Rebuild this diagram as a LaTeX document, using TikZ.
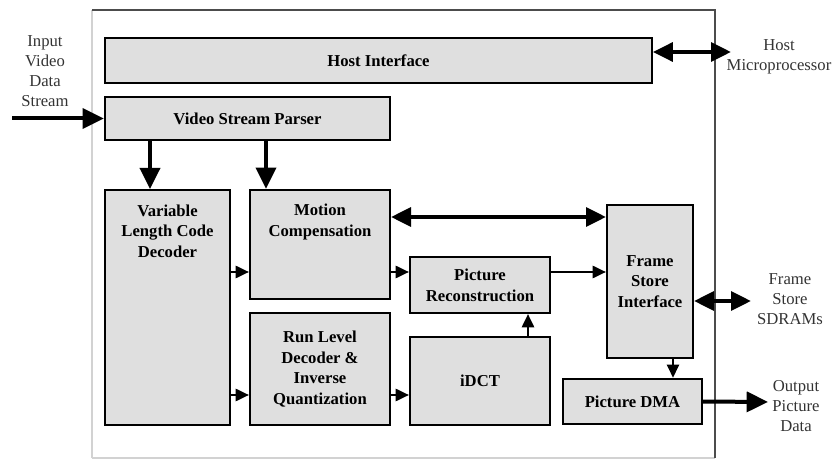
\documentclass[tikz,border=0pt]{standalone}
\usepackage{fontspec}
\setmainfont{Liberation Serif}
\usetikzlibrary{arrows.meta, positioning, calc}
\tikzset{
  blkbox/.style={
    rectangle, draw=black, line width=1.5pt, fill=gray!25,
    align=center, font=\fontsize{12.5}{15.5}\selectfont\bfseries
  },
  toptext/.style={
    align=center, anchor=north, yshift=-8pt,
    font=\fontsize{12.5}{15.5}\selectfont\bfseries
  },
  outlabel/.style={
    align=center, text=black!80,
    font=\fontsize{12.5}{15}\selectfont
  },
  bigarrow/.style={-{Triangle[length=16pt,width=15pt]}, line width=3pt},
  bigdouble/.style={{Triangle[length=15pt,width=14pt]}-{Triangle[length=15pt,width=14pt]}, line width=3pt},
  smallarrow/.style={-{Triangle[length=10pt,width=9pt]}, line width=2pt},
}
\begin{document}
\begin{tikzpicture}[x=0.75pt,y=-0.75pt]
    \useasboundingbox (0,0) rectangle (836,460);
    \draw[line width=2pt,gray!35] (92,458)--(92,10);
    \draw[line width=2pt,gray!35] (92,458)--(715,458);
    \draw[line width=1.5pt,black!70] (92,10)--(715,10)--(715,458);
    \node[blkbox,minimum width=410pt,minimum height=34pt](host)at(378.5,60.5){Host Interface};
    \node[blkbox,minimum width=214pt,minimum height=32pt](vsp) at(247.5,118.5){Video Stream Parser};
    \node[blkbox,minimum width=94pt,minimum height=176pt,
          label={[toptext]north:Variable\\Length Code\\Decoder}](vlc)at(167.5,307.5){};
    \node[blkbox,minimum width=105pt,minimum height=82pt,
          label={[toptext]north:Motion\\Compensation}](mc)at(320,244.5){};
    \node[blkbox,minimum width=105pt,minimum height=84pt](rl)at(320,369)
         {Run Level\\Decoder \&\\Inverse\\Quantization};
    \node[blkbox,minimum width=105pt,minimum height=42pt](pr)at(480,285)
         {Picture\\Reconstruction};
    \node[blkbox,minimum width=105pt,minimum height=66pt](idct)at(480,381){iDCT};
    \node[blkbox,minimum width=64.5pt,minimum height=115pt](fsi)at(650,281.5)
         {Frame\\Store\\Interface};
    \node[blkbox,minimum width=104pt,minimum height=34pt](dma)at(632.5,401.5){Picture DMA};
    \node[outlabel](inlbl)  at(45,71)  {Input\\Video\\Data\\Stream};
    \node[outlabel](hostlbl)at(779,57) {Host\\Microprocessor};
    \node[outlabel](sdram)  at(790,299){Frame\\Store\\SDRAMs};
    \node[outlabel](outlbl) at(796,406){Output\\Picture\\Data};
    \coordinate(instart) at(12,118.5);
    \coordinate(hostend) at(731,52);
    \coordinate(sdramend)at(751,301);
    \coordinate(outend)  at(768,402);
    \coordinate(ra)at(0,217);
    \coordinate(rb)at(0,272);
    \coordinate(rc)at(0,395);
    \coordinate(ca)at(150,0);
    \coordinate(cb)at(266,0);
    \coordinate(cc)at(528,0);
    \coordinate(cd)at(673,0);
    \draw[bigarrow]  (instart)--(vsp.west);
    \draw[bigdouble] (host.east|-hostend)--(hostend);
    \draw[bigarrow]  (vsp.south-|ca)--(vlc.north-|ca);
    \draw[bigarrow]  (vsp.south-|cb)--(mc.north-|cb);
    \draw[bigdouble] (mc.east|-ra)--(fsi.west|-ra);
    \draw[smallarrow](vlc.east|-rb)--(mc.west|-rb);
    \draw[smallarrow](mc.east|-rb)--(pr.west|-rb);
    \draw[smallarrow](vlc.east|-rc)--(rl.west|-rc);
    \draw[smallarrow](rl.east|-rc)--(idct.west|-rc);
    \draw[smallarrow](idct.north-|cc)--(pr.south-|cc);
    \draw[smallarrow](pr.east|-rb)--(fsi.west|-rb);
    \draw[smallarrow](fsi.south-|cd)--(dma.north-|cd);
    \draw[bigdouble] (fsi.east|-sdramend)--(sdramend);
    \draw[bigarrow]  (dma.east)--(outend);
\end{tikzpicture}
\end{document}
